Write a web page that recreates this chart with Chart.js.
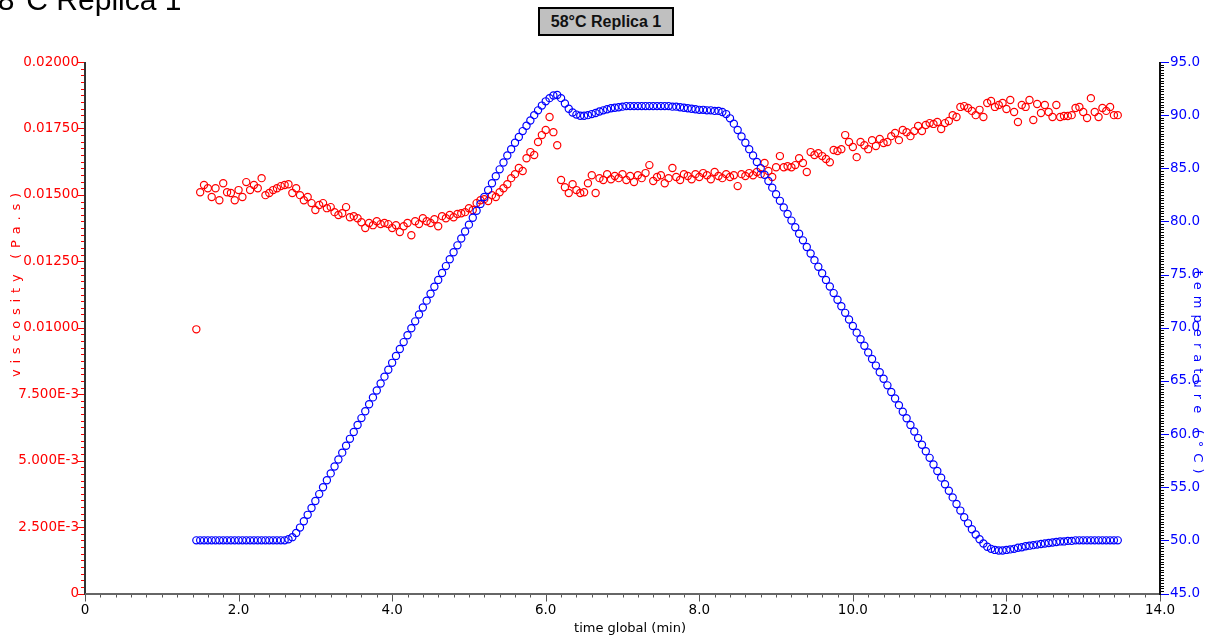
<!DOCTYPE html>
<html><head><meta charset="utf-8">
<script src="https://cdn.jsdelivr.net/npm/chart.js@4.4.0/dist/chart.umd.min.js"></script>
<style>
html,body{margin:0;padding:0;background:#fff;overflow:hidden;}
#wrap{position:relative;width:1206px;height:638px;}
#box{position:absolute;left:538px;top:7px;width:136px;height:29px;box-sizing:border-box;background:#c0c0c0;border:2px solid #000;font:bold 16px "Liberation Sans",Arial,sans-serif;text-align:center;line-height:25px;color:#111;}
</style></head><body>
<div id="wrap"><canvas id="c" width="1206" height="638"></canvas><div id="box">58°C Replica 1</div></div>
<script>
const time = [
1.45,1.5,1.55,1.6,1.65,1.7,1.75,1.8,1.85,1.9,
1.95,2,2.05,2.1,2.15,2.2,2.25,2.3,2.35,2.4,
2.45,2.5,2.55,2.6,2.65,2.7,2.75,2.8,2.85,2.9,
2.95,3,3.05,3.1,3.15,3.2,3.25,3.3,3.35,3.4,
3.45,3.5,3.55,3.6,3.65,3.7,3.75,3.8,3.85,3.9,
3.95,4,4.05,4.1,4.15,4.2,4.25,4.3,4.35,4.4,
4.45,4.5,4.55,4.6,4.65,4.7,4.75,4.8,4.85,4.9,
4.95,5,5.05,5.1,5.15,5.2,5.25,5.3,5.35,5.4,
5.45,5.5,5.55,5.6,5.65,5.7,5.75,5.8,5.85,5.9,
5.95,6,6.05,6.1,6.15,6.2,6.25,6.3,6.35,6.4,
6.45,6.5,6.55,6.6,6.65,6.7,6.75,6.8,6.85,6.9,
6.95,7,7.05,7.1,7.15,7.2,7.25,7.3,7.35,7.4,
7.45,7.5,7.55,7.6,7.65,7.7,7.75,7.8,7.85,7.9,
7.95,8,8.05,8.1,8.15,8.2,8.25,8.3,8.35,8.4,
8.45,8.5,8.55,8.6,8.65,8.7,8.75,8.8,8.85,8.9,
8.95,9,9.05,9.1,9.15,9.2,9.25,9.3,9.35,9.4,
9.45,9.5,9.55,9.6,9.65,9.7,9.75,9.8,9.85,9.9,
9.95,10,10.05,10.1,10.15,10.2,10.25,10.3,10.35,10.4,
10.45,10.5,10.55,10.6,10.65,10.7,10.75,10.8,10.85,10.9,
10.95,11,11.05,11.1,11.15,11.2,11.25,11.3,11.35,11.4,
11.45,11.5,11.55,11.6,11.65,11.7,11.75,11.8,11.85,11.9,
11.95,12,12.05,12.1,12.15,12.2,12.25,12.3,12.35,12.4,
12.45,12.5,12.55,12.6,12.65,12.7,12.75,12.8,12.85,12.9,
12.95,13,13.05,13.1,13.15,13.2,13.25,13.3,13.35,13.4,
13.45];

const viscosity = [
0.00994,0.01510,0.01537,0.01525,0.01492,0.01525,0.01480,0.01544,0.01510,0.01507,
0.01480,0.01518,0.01492,0.01548,0.01518,0.01537,0.01525,0.01563,0.01499,0.01507,
0.01518,0.01525,0.01533,0.01537,0.01540,0.01507,0.01525,0.01499,0.01480,0.01492,
0.01469,0.01443,0.01462,0.01469,0.01450,0.01454,0.01435,0.01424,0.01431,0.01454,
0.01416,0.01420,0.01412,0.01397,0.01375,0.01394,0.01386,0.01401,0.01390,0.01394,
0.01390,0.01375,0.01386,0.01360,0.01382,0.01394,0.01348,0.01401,0.01390,0.01412,
0.01401,0.01394,0.01408,0.01382,0.01420,0.01412,0.01424,0.01416,0.01428,0.01431,
0.01435,0.01450,0.01443,0.01469,0.01480,0.01484,0.01477,0.01499,0.01492,0.01510,
0.01525,0.01540,0.01563,0.01578,0.01601,0.01590,0.01638,0.01661,0.01650,0.01699,
0.01725,0.01744,0.01793,0.01736,0.01687,0.01556,0.01529,0.01507,0.01540,0.01518,
0.01507,0.01510,0.01544,0.01574,0.01507,0.01563,0.01556,0.01578,0.01559,0.01571,
0.01563,0.01578,0.01556,0.01571,0.01548,0.01574,0.01563,0.01582,0.01612,0.01552,
0.01567,0.01574,0.01544,0.01563,0.01601,0.01567,0.01556,0.01578,0.01571,0.01559,
0.01578,0.01567,0.01582,0.01574,0.01559,0.01586,0.01571,0.01563,0.01578,0.01567,
0.01574,0.01533,0.01578,0.01571,0.01582,0.01574,0.01586,0.01578,0.01620,0.01590,
0.01567,0.01604,0.01646,0.01604,0.01608,0.01604,0.01612,0.01638,0.01620,0.01586,
0.01661,0.01650,0.01657,0.01646,0.01635,0.01623,0.01669,0.01665,0.01672,0.01725,
0.01699,0.01680,0.01642,0.01699,0.01687,0.01672,0.01706,0.01684,0.01710,0.01695,
0.01699,0.01721,0.01733,0.01706,0.01744,0.01736,0.01721,0.01740,0.01759,0.01740,
0.01763,0.01770,0.01767,0.01774,0.01748,0.01770,0.01778,0.01800,0.01793,0.01831,
0.01834,0.01827,0.01816,0.01800,0.01820,0.01793,0.01846,0.01853,0.01831,0.01838,
0.01846,0.01823,0.01857,0.01812,0.01774,0.01838,0.01831,0.01857,0.01782,0.01842,
0.01808,0.01838,0.01812,0.01793,0.01838,0.01793,0.01797,0.01797,0.01800,0.01827,
0.01831,0.01812,0.01789,0.01864,0.01812,0.01793,0.01827,0.01816,0.01831,0.01800,
0.01800];

const temperature = [
50,50,50,50,50,50,50,50,50,50,
50,50,50,50,50,50,50,50,50,50,
50,50,50,50,50.1,50.3,50.7,51.2,51.8,52.4,
53.05,53.7,54.35,55.0,55.65,56.3,56.95,57.6,58.25,58.9,
59.55,60.2,60.85,61.5,62.15,62.8,63.45,64.1,64.75,65.4,
66.05,66.7,67.35,68.0,68.65,69.3,69.95,70.6,71.25,71.9,
72.55,73.2,73.85,74.5,75.15,75.8,76.45,77.1,77.75,78.4,
79.05,79.7,80.35,81.0,81.65,82.3,82.95,83.6,84.25,84.9,
85.55,86.2,86.8,87.4,87.95,88.5,89.0,89.5,90.0,90.45,
90.9,91.3,91.6,91.85,91.9,91.6,91.1,90.6,90.25,90.05,
89.95,89.95,90.0,90.1,90.2,90.35,90.45,90.55,90.65,90.7,
90.75,90.8,90.85,90.85,90.85,90.85,90.85,90.85,90.85,90.85,
90.85,90.85,90.85,90.85,90.8,90.8,90.75,90.7,90.65,90.6,
90.55,90.5,90.5,90.45,90.45,90.4,90.4,90.3,90.1,89.7,
89.2,88.6,88.0,87.4,86.8,86.2,85.6,85.0,84.4,83.8,
83.18,82.56,81.94,81.32,80.7,80.08,79.46,78.84,78.22,77.6,
76.98,76.36,75.74,75.12,74.5,73.88,73.26,72.64,72.02,71.4,
70.78,70.16,69.54,68.92,68.3,67.68,67.06,66.44,65.82,65.2,
64.58,63.96,63.34,62.72,62.1,61.48,60.86,60.24,59.62,59.0,
58.38,57.76,57.14,56.52,55.9,55.28,54.66,54.04,53.42,52.8,
52.18,51.6,51.05,50.55,50.1,49.7,49.4,49.2,49.1,49.05,
49.05,49.1,49.15,49.2,49.3,49.35,49.45,49.5,49.55,49.6,
49.65,49.7,49.75,49.8,49.85,49.9,49.9,49.95,49.95,50.0,
50,50,50,50,50,50,50,50,50,50,
50];

const xTickValues = [0,2,4,6,8,10,12,14];
const xTickLabels = ['0','2.0','4.0','6.0','8.0','10.0','12.0','14.0'];
const leftTickValues = [0,0.0025,0.005,0.0075,0.01,0.0125,0.015,0.0175,0.02];
const leftTickLabels = ['0','2.500E-3','5.000E-3','7.500E-3','0.01000','0.01250','0.01500','0.01750','0.02000'];
const rightTickValues = [45,50,55,60,65,70,75,80,85,90,95];
const rightTickLabels = ['45.0','50.0','55.0','60.0','65.0','70.0','75.0','80.0','85.0','90.0','95.0'];

const TICK_FONT = {family:'"DejaVu Sans", sans-serif', size:13.5};

function spacedText(ctx, text, cx, cy, angle, target) {
  ctx.save();
  ctx.translate(cx, cy);
  ctx.rotate(angle);
  const chars = Array.from(text);
  const widths = chars.map(c => ctx.measureText(c).width);
  const nat = widths.reduce((a,b)=>a+b,0);
  const sp = (target - nat) / (chars.length - 1);
  let x = -target/2;
  ctx.textBaseline = 'middle';
  ctx.textAlign = 'left';
  chars.forEach((c,i) => { ctx.fillText(c, x, 0); x += widths[i] + sp; });
  ctx.restore();
}

const decor = {
  id: 'decor',
  beforeDraw(chart) {
    const ctx = chart.ctx;
    ctx.save();
    ctx.fillStyle = '#fff';
    ctx.fillRect(0,0,chart.width,chart.height);
    ctx.restore();
  },
  afterDraw(chart) {
    const ctx = chart.ctx;
    const sx = chart.scales.x, sy = chart.scales.y, sy2 = chart.scales.y2;
    const ca = chart.chartArea;
    const L = ca.left, R = ca.right, T = ca.top, B = ca.bottom;
    ctx.save();
    ctx.lineWidth = 1;
    ctx.strokeStyle = '#555';
    ctx.beginPath();
    for (let k = 0; k <= 70; k++) {
      const v = k * 0.2;
      const px = Math.round(sx.getPixelForValue(v)) + 0.5;
      const len = (k % 10 === 0) ? 8 : 4;
      ctx.moveTo(px, B); ctx.lineTo(px, B + len);
    }
    ctx.stroke();
    ctx.strokeStyle = '#ff0000';
    ctx.beginPath();
    for (let k = 0; k <= 80; k++) {
      const v = k * 0.00025;
      const py = Math.round(sy.getPixelForValue(v)) + 0.5;
      const len = (k % 10 === 0) ? 7 : 4;
      ctx.moveTo(L, py); ctx.lineTo(L - len, py);
    }
    ctx.stroke();
    ctx.strokeStyle = '#000';
    ctx.beginPath();
    for (let k = 0; k <= 200; k++) {
      if (k % 20 === 0) continue;
      const v = 45 + k * 0.25;
      const py = Math.round(sy2.getPixelForValue(v)) + 0.5;
      ctx.moveTo(R, py); ctx.lineTo(R + 4, py);
    }
    ctx.stroke();
    ctx.strokeStyle = '#0000ff';
    ctx.beginPath();
    for (const v of rightTickValues) {
      const py = Math.round(sy2.getPixelForValue(v)) + 0.5;
      ctx.moveTo(R, py); ctx.lineTo(R + 9, py);
    }
    ctx.stroke();
    ctx.fillStyle = '#333';
    ctx.fillRect(Math.round(L) - 1, Math.round(T), 2, Math.round(B - T) + 1);
    ctx.fillStyle = '#666';
    ctx.fillRect(Math.round(L), Math.round(B) - 1, Math.round(R - L), 2);
    ctx.fillStyle = '#111';
    ctx.fillRect(Math.round(R) - 1, Math.round(T), 2, Math.round(B - T) + 1);
    ctx.font = '13px "DejaVu Sans", sans-serif';
    ctx.fillStyle = '#ff0000';
    spacedText(ctx, 'viscosity (Pa.s)', 17, 285, -Math.PI/2, 184);
    ctx.fillStyle = '#0000ff';
    spacedText(ctx, 'temperature (°C)', 1197, 372, Math.PI/2, 203);
    ctx.fillStyle = '#000';
    ctx.textAlign = 'center';
    ctx.textBaseline = 'middle';
    ctx.fillText('time global (min)', 630, 629);
    ctx.font = '30px "Liberation Sans", Arial, sans-serif';
    ctx.textAlign = 'left';
    ctx.textBaseline = 'alphabetic';
    ctx.fillText('58°C Replica 1', -19, 10);
    ctx.restore();
  }
};

const ptStyle = {pointStyle:'circle', pointRadius:3.6, pointHoverRadius:3.6, pointBorderWidth:1.2, backgroundColor:'rgba(0,0,0,0)', showLine:false};

new Chart(document.getElementById('c'), {
  type: 'scatter',
  data: {
    datasets: [
      Object.assign({label:'temperature (°C)', yAxisID:'y2', borderColor:'#0000ff',
        data: time.map((t,i)=>({x:t, y:temperature[i]}))}, ptStyle),
      Object.assign({label:'viscosity (Pa.s)', yAxisID:'y', borderColor:'#ff0000',
        data: time.map((t,i)=>({x:t, y:viscosity[i]}))}, ptStyle)
    ]
  },
  options: {
    responsive:false, animation:false, devicePixelRatio:1, events:[],
    layout:{padding:{top:62,left:0,right:0,bottom:0}},
    plugins:{legend:{display:false}, tooltip:{enabled:false}, title:{display:false}},
    scales: {
      x: {type:'linear', position:'bottom', min:0, max:14,
        afterFit(s){ s.height = 44.5; },
        afterBuildTicks(s){ s.ticks = xTickValues.map(v=>({value:v})); },
        ticks:{callback:(v,i)=>xTickLabels[i], color:'#000', font:TICK_FONT, padding:9, maxRotation:0, autoSkip:false},
        grid:{display:false, drawTicks:false}, border:{display:false}},
      y: {type:'linear', position:'left', min:0, max:0.02,
        afterFit(s){ s.width = 85; },
        afterBuildTicks(s){ s.ticks = leftTickValues.map(v=>({value:v})); },
        ticks:{callback:(v,i)=>leftTickLabels[i], color:'#ff0000', font:TICK_FONT, padding:6, autoSkip:false},
        grid:{display:false, drawTicks:false}, border:{display:false}},
      y2: {type:'linear', position:'right', min:45, max:95,
        afterFit(s){ s.width = 46; },
        afterBuildTicks(s){ s.ticks = rightTickValues.map(v=>({value:v})); },
        ticks:{callback:(v,i)=>rightTickLabels[i], color:'#0000ff', font:TICK_FONT, padding:10, autoSkip:false},
        grid:{display:false, drawTicks:false}, border:{display:false}}
    }
  },
  plugins:[decor]
});
</script>
</body></html>
